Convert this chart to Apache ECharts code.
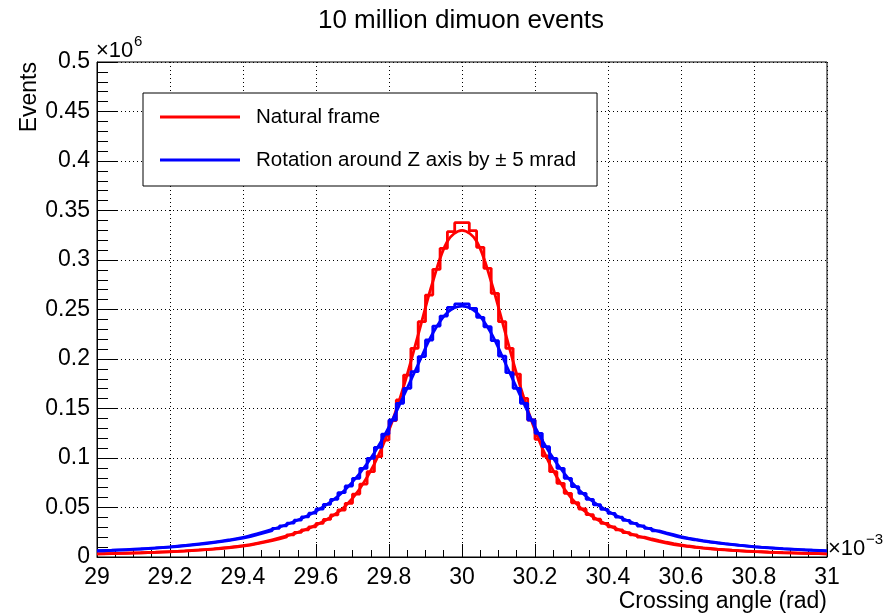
<!DOCTYPE html>
<html>
<head>
<meta charset="utf-8">
<script src="https://cdn.jsdelivr.net/npm/echarts@6/dist/echarts.min.js"></script>
<style>
  html, body { margin: 0; padding: 0; background: #fff; }
  #chart { width: 886px; height: 613px; }
</style>
</head>
<body>
<div id="chart"></div>
<script>
// Histogram binning: 100 bins of 0.02 (x10^-3 rad) from 29 to 31
const binStart = 29.0;
const binWidth = 0.02;
const binCount = 100;

// Bin contents (x10^6 events), natural frame
const naturalCounts = [
  0.0032, 0.0034, 0.0036, 0.0038, 0.0040, 0.0042, 0.0044, 0.0047, 0.0050, 0.0053,
  0.0056, 0.0060, 0.0064, 0.0069, 0.0074, 0.0079, 0.0086, 0.0093, 0.0101, 0.0110,
  0.0121, 0.0134, 0.0149, 0.0165, 0.0183, 0.0202, 0.0224, 0.0248, 0.0275, 0.0305,
  0.0340, 0.0380, 0.0425, 0.0475, 0.0542, 0.0636, 0.0737, 0.0862, 0.1013, 0.1182,
  0.1377, 0.1586, 0.1838, 0.2108, 0.2377, 0.2646, 0.2906, 0.3118, 0.3286, 0.3377,
  0.3377, 0.3296, 0.3128, 0.2916, 0.2663, 0.2377, 0.2108, 0.1848, 0.1603, 0.1384,
  0.1189, 0.1020, 0.0862, 0.0744, 0.0643, 0.0548, 0.0485, 0.0428, 0.0382, 0.0340,
  0.0304, 0.0274, 0.0247, 0.0223, 0.0201, 0.0182, 0.0165, 0.0149, 0.0135, 0.0122,
  0.0111, 0.0101, 0.0093, 0.0086, 0.0079, 0.0074, 0.0068, 0.0064, 0.0060, 0.0056,
  0.0053, 0.0050, 0.0047, 0.0044, 0.0042, 0.0040, 0.0038, 0.0036, 0.0034, 0.0032
];

// Bin contents (x10^6 events), rotated by +-5 mrad around Z
const rotatedCounts = [
  0.0063, 0.0066, 0.0070, 0.0073, 0.0077, 0.0081, 0.0085, 0.0090, 0.0095, 0.0100,
  0.0106, 0.0113, 0.0120, 0.0128, 0.0136, 0.0145, 0.0155, 0.0166, 0.0178, 0.0191,
  0.0206, 0.0226, 0.0245, 0.0265, 0.0290, 0.0315, 0.0342, 0.0372, 0.0405, 0.0443,
  0.0485, 0.0532, 0.0583, 0.0650, 0.0717, 0.0795, 0.0896, 0.0997, 0.1108, 0.1242,
  0.1384, 0.1552, 0.1704, 0.1872, 0.2024, 0.2192, 0.2333, 0.2434, 0.2522, 0.2556,
  0.2556, 0.2512, 0.2421, 0.2326, 0.2185, 0.2030, 0.1862, 0.1704, 0.1552, 0.1384,
  0.1249, 0.1114, 0.0997, 0.0896, 0.0795, 0.0710, 0.0643, 0.0583, 0.0528, 0.0482,
  0.0440, 0.0403, 0.0370, 0.0340, 0.0313, 0.0289, 0.0264, 0.0244, 0.0225, 0.0205,
  0.0190, 0.0177, 0.0165, 0.0154, 0.0144, 0.0135, 0.0127, 0.0119, 0.0112, 0.0105,
  0.0099, 0.0094, 0.0089, 0.0084, 0.0080, 0.0076, 0.0072, 0.0069, 0.0066, 0.0062
];

// Fitted curves, sampled every 0.04 from 29 to 31
const fitStep = 0.04;
const naturalFit = [
  0.0031, 0.0035, 0.0039, 0.0043, 0.0048, 0.0054, 0.0062, 0.0071, 0.0082, 0.0097,
  0.0115, 0.0141, 0.0174, 0.0213, 0.0261, 0.0322, 0.0402, 0.0512, 0.0690, 0.0940,
  0.1280, 0.1720, 0.2245, 0.2780, 0.3190, 0.3300, 0.3190, 0.2780, 0.2245, 0.1720,
  0.1280, 0.0940, 0.0690, 0.0512, 0.0402, 0.0322, 0.0261, 0.0213, 0.0174, 0.0141,
  0.0115, 0.0097, 0.0082, 0.0071, 0.0062, 0.0054, 0.0048, 0.0043, 0.0039, 0.0035,
  0.0031
];
const rotatedFit = [
  0.0062, 0.0068, 0.0075, 0.0083, 0.0092, 0.0103, 0.0117, 0.0132, 0.0150, 0.0172,
  0.0198, 0.0236, 0.0279, 0.0328, 0.0388, 0.0463, 0.0556, 0.0680, 0.0846, 0.1054,
  0.1315, 0.1628, 0.1947, 0.2260, 0.2470, 0.2535, 0.2470, 0.2260, 0.1947, 0.1628,
  0.1315, 0.1054, 0.0846, 0.0680, 0.0556, 0.0463, 0.0388, 0.0328, 0.0279, 0.0236,
  0.0198, 0.0172, 0.0150, 0.0132, 0.0117, 0.0103, 0.0092, 0.0083, 0.0075, 0.0068,
  0.0062
];

const seriesNames = ['Natural frame', 'Rotation around Z axis by \u00b1 5 mrad'];
const seriesColors = ['#ff0000', '#0000ff'];

// Step outline: one point at each bin's low edge, plus the closing upper edge
function histPoints(counts) {
  const pts = counts.map((v, i) => [+(binStart + i * binWidth).toFixed(4), v]);
  pts.push([+(binStart + binCount * binWidth).toFixed(4), counts[counts.length - 1]]);
  return pts;
}
function fitPoints(values) {
  return values.map((v, i) => [+(binStart + i * fitStep).toFixed(4), v]);
}

const FONT = 'Liberation Sans, Arial, Helvetica, sans-serif';
const gridDash = { color: '#000', width: 1, type: [1, 3] };

const chart = echarts.init(document.getElementById('chart'), null, { renderer: 'canvas' });

chart.setOption({
  animation: false,
  backgroundColor: '#fff',
  grid: {
    left: 97, right: 59, top: 62, bottom: 56,
    show: true, borderColor: '#000', borderWidth: 1, backgroundColor: 'transparent'
  },
  xAxis: {
    type: 'value', min: 29, max: 31, interval: 0.2,
    axisLine: { lineStyle: { color: '#000', width: 1 } },
    axisTick: { inside: true, length: 13, lineStyle: { color: '#000' } },
    minorTick: { show: true, splitNumber: 4, length: 7, lineStyle: { color: '#000' } },
    splitLine: { show: true, lineStyle: gridDash },
    axisLabel: { color: '#000', fontSize: 23, fontFamily: FONT, margin: 9 }
  },
  yAxis: {
    type: 'value', min: 0, max: 0.5, interval: 0.05,
    axisLine: { show: true, lineStyle: { color: '#000', width: 1 } },
    axisTick: { show: true, inside: true, length: 21, lineStyle: { color: '#000' } },
    minorTick: { show: true, splitNumber: 5, length: 11, lineStyle: { color: '#000' } },
    splitLine: { show: true, lineStyle: gridDash },
    axisLabel: { color: '#000', fontSize: 23, fontFamily: FONT, margin: 7 }
  },
  legend: {
    data: seriesNames,
    orient: 'vertical',
    left: 143, top: 93,
    backgroundColor: '#fff', borderColor: '#000', borderWidth: 1, borderRadius: 0,
    padding: [12, 21, 14, 17],
    itemGap: 19, itemWidth: 80, itemHeight: 3, icon: 'rect',
    selectedMode: false,
    textStyle: { color: '#000', fontSize: 20.5, fontFamily: FONT, lineHeight: 24, padding: [0, 0, 0, 11] }
  },
  series: [
    {
      name: seriesNames[0], type: 'line', step: 'end', data: histPoints(naturalCounts),
      symbol: 'none', lineStyle: { color: seriesColors[0], width: 2.8 }, itemStyle: { color: seriesColors[0] }, z: 2
    },
    {
      name: seriesNames[0], type: 'line', smooth: 0.35, data: fitPoints(naturalFit),
      symbol: 'none', lineStyle: { color: seriesColors[0], width: 2.8 }, itemStyle: { color: seriesColors[0] }, z: 2
    },
    {
      name: seriesNames[1], type: 'line', step: 'end', data: histPoints(rotatedCounts),
      symbol: 'none', lineStyle: { color: seriesColors[1], width: 2.8 }, itemStyle: { color: seriesColors[1] }, z: 3
    },
    {
      name: seriesNames[1], type: 'line', smooth: 0.35, data: fitPoints(rotatedFit),
      symbol: 'none', lineStyle: { color: seriesColors[1], width: 2.8 }, itemStyle: { color: seriesColors[1] }, z: 3
    }
  ],
  graphic: [
    {
      type: 'text', x: 461, y: 21,
      style: { text: '10 million dimuon events', fontSize: 26, fontFamily: FONT, fill: '#000',
               align: 'center', verticalAlign: 'middle' }
    },
    {
      type: 'text', x: 30, y: 62, rotation: Math.PI / 2,
      style: { text: 'Events', fontSize: 23, fontFamily: FONT, fill: '#000',
               align: 'right', verticalAlign: 'middle' }
    },
    {
      type: 'text', x: 96, y: 62,
      style: { text: '\u00d710', fontSize: 22, fontFamily: FONT, fill: '#000',
               align: 'left', verticalAlign: 'bottom' }
    },
    {
      type: 'text', x: 134, y: 49,
      style: { text: '6', fontSize: 15, fontFamily: FONT, fill: '#000',
               align: 'left', verticalAlign: 'bottom' }
    },
    {
      type: 'text', x: 828, y: 560,
      style: { text: '\u00d710', fontSize: 22, fontFamily: FONT, fill: '#000',
               align: 'left', verticalAlign: 'bottom' }
    },
    {
      type: 'text', x: 866, y: 547,
      style: { text: '\u22123', fontSize: 15, fontFamily: FONT, fill: '#000',
               align: 'left', verticalAlign: 'bottom' }
    },
    {
      type: 'text', x: 827, y: 602,
      style: { text: 'Crossing angle (rad)', fontSize: 23, fontFamily: FONT, fill: '#000',
               align: 'right', verticalAlign: 'middle' }
    }
  ]
});
</script>
</body>
</html>
